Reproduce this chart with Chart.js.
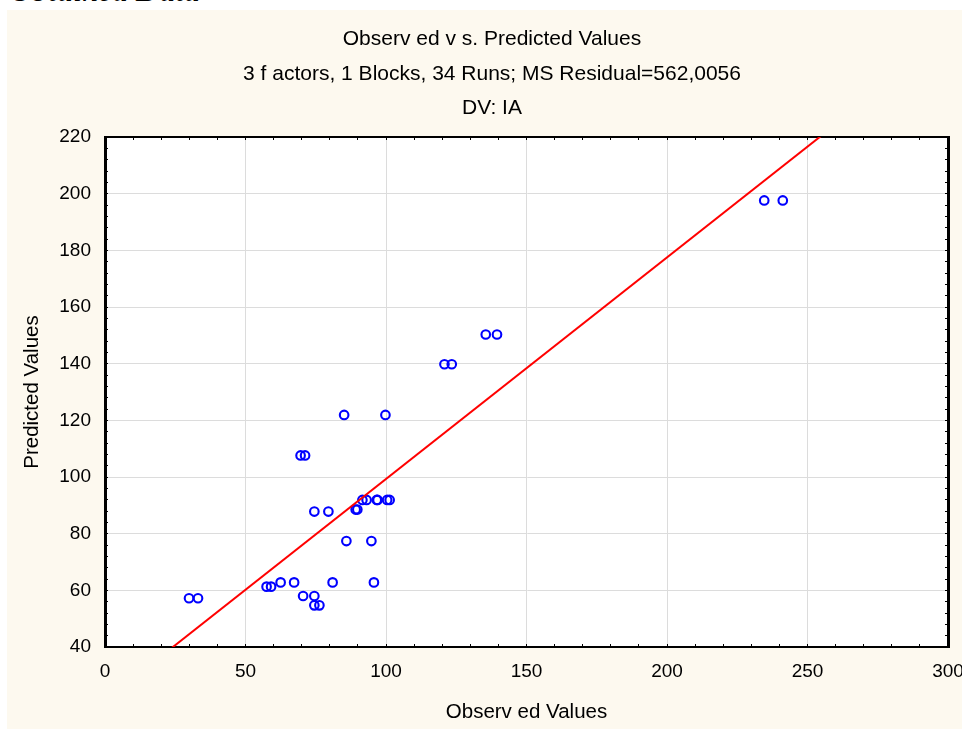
<!DOCTYPE html>
<html>
<head>
<meta charset="utf-8">
<title>Observed vs. Predicted Values</title>
<script src="https://cdn.jsdelivr.net/npm/chart.js@4.4.0/dist/chart.umd.min.js"></script>
<style>
  html, body { margin: 0; padding: 0; background: #fff; overflow: hidden; }
  #caption { position: absolute; left: 9px; top: -26px; font: italic 32px "Liberation Serif", "Times New Roman", serif; line-height: 32px; white-space: nowrap; color: #000; }
  #panel { position: absolute; left: 7px; top: 10px; width: 955px; height: 719px; background: #fdf9ef; }
</style>
</head>
<body>
<div id="caption">Obtained Data</div>
<div id="panel"><canvas id="obs_pred"></canvas></div>
<script>
// observed / predicted pairs (34 runs)
var obsValues = [29.9, 33.1, 57.5, 59.1, 62.5, 67.3, 70.5, 74.5, 74.5, 76.3, 81.0, 95.7,
                 85.9, 94.8, 74.5, 79.5, 89.2, 89.8, 91.6, 93.1, 96.7, 97.0, 100.4, 101.3,
                 85.1, 99.8, 69.6, 71.2, 120.8, 123.4, 135.5, 139.5, 234.6, 241.2];
var predValues = [57.2, 57.2, 61.3, 61.3, 62.8, 62.8, 58.0, 58.0, 54.7, 54.7, 62.8, 62.8,
                  77.4, 77.4, 87.8, 87.8, 88.5, 88.5, 91.9, 91.9, 91.9, 91.9, 91.9, 91.9,
                  121.9, 121.9, 107.6, 107.6, 139.8, 139.8, 150.3, 150.3, 197.6, 197.6];
// fitted line end points
var fitX = [0, 300];
var fitY = [21.1, 255.7];
var titleLines = ["Observ ed v s. Predicted Values",
                  "3 f actors, 1 Blocks, 34 Runs; MS Residual=562,0056",
                  "DV: IA"];

Chart.defaults.font.family = '"Liberation Sans", Arial, sans-serif';
Chart.defaults.color = '#000';

var points = [];
for (var i = 0; i < obsValues.length; i++) {
	points.push({x: obsValues[i], y: predValues[i]});
}
var fitPoints = [];
for (var j = 0; j < fitX.length; j++) {
	fitPoints.push({x: fitX[j], y: fitY[j]});
}

function majorGrid(step) {
	return function(c) {
		return (c.tick && c.tick.value % step === 0) ? '#dcdcdc' : 'rgba(0,0,0,0)';
	};
}
function majorLabel(step) {
	return function(v) { return v % step === 0 ? v : ''; };
}

var plotBackground = {
	id: 'plotBackground',
	beforeDraw: function(chart) {
		var a = chart.chartArea;
		chart.ctx.save();
		chart.ctx.fillStyle = '#ffffff';
		chart.ctx.fillRect(a.left, a.top, a.right - a.left, a.bottom - a.top);
		chart.ctx.restore();
	}
};

var chartData = {
	datasets: [{
		label: 'fit',
		data: fitPoints,
		showLine: true,
		borderColor: '#ff0000',
		borderWidth: 2,
		pointRadius: 0,
		order: 0
	}, {
		label: 'runs',
		data: points,
		borderColor: '#0000ff',
		backgroundColor: 'rgba(0,0,0,0)',
		borderWidth: 2.1,
		pointRadius: 4.3,
		pointHoverRadius: 4.3,
		order: 1
	}]
};

var chartOptions = {
	responsive: true,
	maintainAspectRatio: false,
	animation: false,
	layout: { padding: { left: 15, right: 0, top: 0, bottom: 0 } },
	plugins: {
		legend: { display: false },
		tooltip: { enabled: false },
		title: {
			display: true,
			text: titleLines,
			color: '#000',
			font: { size: 21, weight: 'normal', lineHeight: 1.643 },
			padding: { top: 12, bottom: 11.5 }
		}
	},
	scales: {
		x: {
			type: 'linear', position: 'bottom', min: 0, max: 300,
			afterFit: function(s) { s.height = 82; s.paddingLeft = 0; s.paddingRight = 0; },
			ticks: { stepSize: 10, autoSkip: false, maxRotation: 0, padding: 16, font: { size: 19 }, callback: majorLabel(50) },
			grid: { color: majorGrid(50), tickColor: '#000', tickLength: -3, lineWidth: 1 },
			border: { color: '#000', width: 2 },
			title: { display: true, text: 'Observ ed Values', font: { size: 20.5 }, padding: { top: 0, bottom: 4 } }
		},
		y: {
			type: 'linear', position: 'left', min: 40, max: 220,
			afterFit: function(s) { s.width = 83; },
			ticks: { stepSize: 4, autoSkip: false, padding: 17, font: { size: 19 }, callback: majorLabel(20) },
			grid: { color: majorGrid(20), tickColor: '#000', tickLength: -3, lineWidth: 1 },
			border: { color: '#000', width: 3 },
			title: { display: true, text: 'Predicted Values', font: { size: 20.5 }, padding: { top: -2, bottom: 0 } }
		},
		x2: {
			type: 'linear', position: 'top', min: 0, max: 300,
			afterFit: function(s) { s.height = 0; },
			ticks: { display: false, stepSize: 10, autoSkip: false },
			grid: { drawOnChartArea: false, tickColor: '#000', tickLength: -3 },
			border: { color: '#000', width: 2 }
		},
		y2: {
			type: 'linear', position: 'right', min: 40, max: 220,
			afterFit: function(s) { s.width = 14; },
			ticks: { display: false, stepSize: 4, autoSkip: false },
			grid: { drawOnChartArea: false, tickColor: '#000', tickLength: -3 },
			border: { color: '#000', width: 3 }
		}
	}
};

var config = {
	type: 'scatter',
	data: chartData,
	options: chartOptions,
	plugins: [plotBackground]
};
var obsPredChart = new Chart(document.getElementById('obs_pred'), config);
</script>
</body>
</html>
